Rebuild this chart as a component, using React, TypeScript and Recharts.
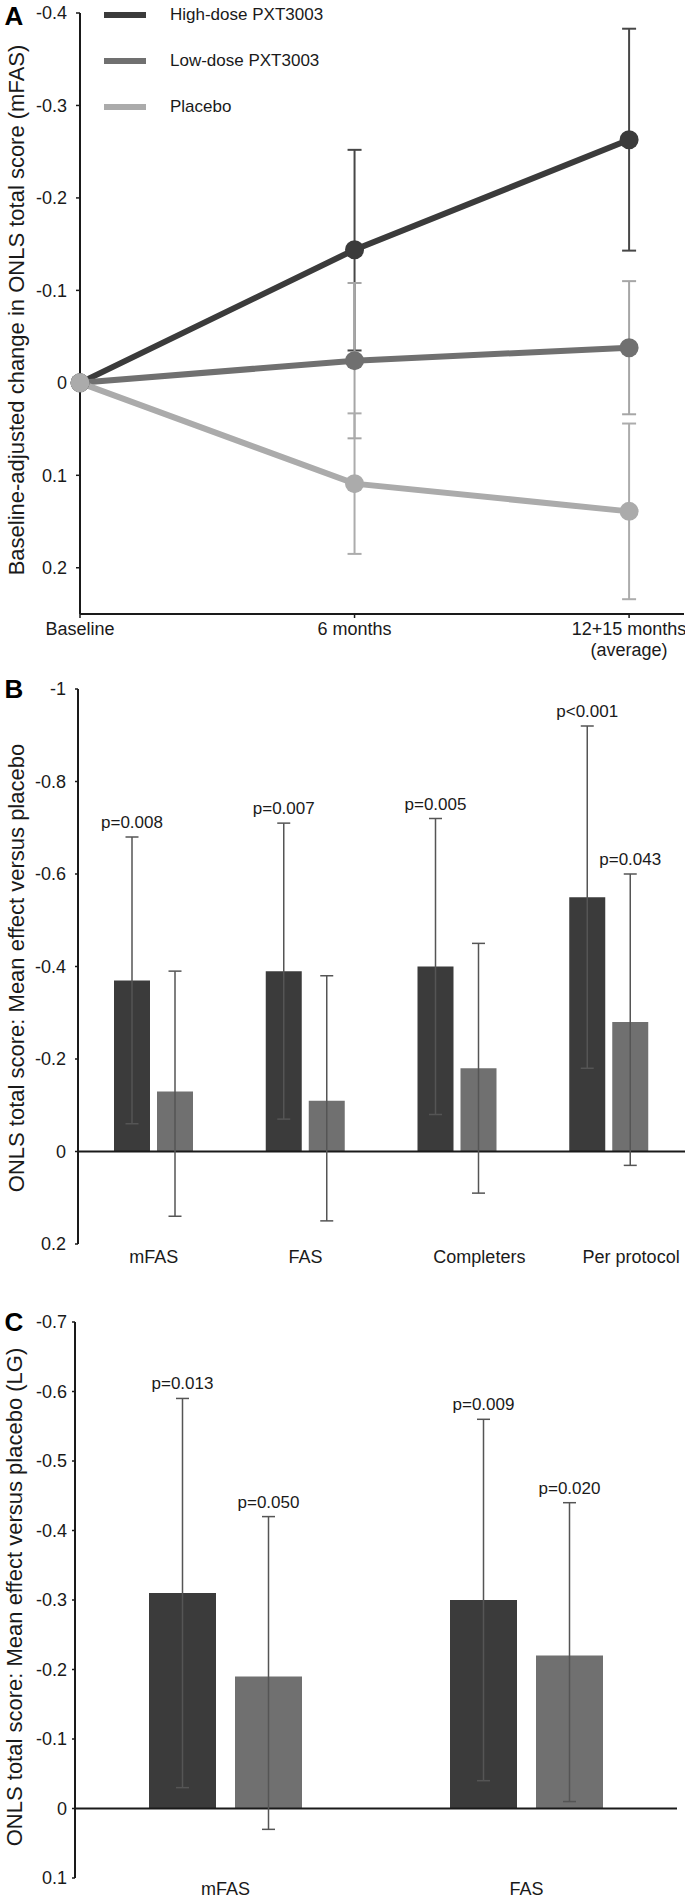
import React from "react";
import {
  Bar,
  BarChart,
  ErrorBar,
  LabelList,
  Legend,
  Line,
  LineChart,
  ReferenceLine,
  XAxis,
  YAxis,
} from "recharts";

const FONT = "'Liberation Sans', Arial, Helvetica, sans-serif";
const INK = "#1a1a1a";
const DARK = "#3b3b3b";
const MID = "#707070";
const LIGHT = "#ababab";
const WHISKER = "#555555";

// A: baseline-adjusted change in ONLS total score (mFAS)
const visits = ["Baseline", "6 months", "12+15 months|(average)"];
const visitPos = [0, 1, 2];
const highDose = [0, -0.144, -0.263];
const highDoseCI = [[0, 0], [-0.252, -0.035], [-0.383, -0.143]];
const lowDose = [0, -0.024, -0.038];
const lowDoseCI = [[0, 0], [-0.108, 0.06], [-0.11, 0.034]];
const placebo = [0, 0.109, 0.139];
const placeboCI = [[0, 0], [0.033, 0.185], [0.044, 0.234]];
const ticksA = [-0.4, -0.3, -0.2, -0.1, 0, 0.1, 0.2];

// B: mean effect versus placebo by analysis set
const setsB = ["mFAS", "FAS", "Completers", "Per protocol"];
const highB = [-0.37, -0.39, -0.4, -0.55];
const highCIB = [[-0.68, -0.06], [-0.71, -0.07], [-0.72, -0.08], [-0.92, -0.18]];
const lowB = [-0.13, -0.11, -0.18, -0.28];
const lowCIB = [[-0.39, 0.14], [-0.38, 0.15], [-0.45, 0.09], [-0.6, 0.03]];
const highPB = ["p=0.008", "p=0.007", "p=0.005", "p<0.001"];
const lowPB = ["", "", "", "p=0.043"];
const ticksB = [-1, -0.8, -0.6, -0.4, -0.2, 0, 0.2];

// C: mean effect versus placebo (LG)
const setsC = ["mFAS", "FAS"];
const highC = [-0.31, -0.3];
const highCIC = [[-0.59, -0.03], [-0.56, -0.04]];
const lowC = [-0.19, -0.22];
const lowCIC = [[-0.42, 0.03], [-0.44, -0.01]];
const highPC = ["p=0.013", "p=0.009"];
const lowPC = ["p=0.050", "p=0.020"];
const ticksC = [-0.7, -0.6, -0.5, -0.4, -0.3, -0.2, -0.1, 0, 0.1];

// the original sets the last two B labels a little to the right of their bars
const labelShiftB = [0, 0, 22, 22];

const err = (v: number, ci: number[]) => [v - ci[0], ci[1] - v];

const dataA = visitPos.map((t, i) => ({
  t,
  high: highDose[i],
  highErr: err(highDose[i], highDoseCI[i]),
  low: lowDose[i],
  lowErr: err(lowDose[i], lowDoseCI[i]),
  placebo: placebo[i],
  placeboErr: err(placebo[i], placeboCI[i]),
}));

const dataB = setsB.map((set, i) => ({
  set,
  high: highB[i],
  highErr: err(highB[i], highCIB[i]),
  highP: highPB[i],
  low: lowB[i],
  lowErr: err(lowB[i], lowCIB[i]),
  lowP: lowPB[i],
}));

const dataC = setsC.map((set, i) => ({
  set,
  high: highC[i],
  highErr: err(highC[i], highCIC[i]),
  highP: highPC[i],
  low: lowC[i],
  lowErr: err(lowC[i], lowCIC[i]),
  lowP: lowPC[i],
}));

const tickStyle = { fontSize: 18, fill: INK, fontFamily: FONT };

// axis title + panel letter, drawn through the y axis label slot
function titleLabel(title: string, x: number, y: number, letter: string, ly: number) {
  return () => (
    <g>
      <text
        x={x}
        y={y}
        transform={`rotate(-90, ${x}, ${y})`}
        textAnchor="middle"
        fontSize={22}
        fontFamily={FONT}
        fill={INK}
      >
        {title}
      </text>
      <text x={14} y={ly} textAnchor="middle" dominantBaseline="central" fontSize={26} fontWeight="bold" fontFamily={FONT} fill="#000">
        {letter}
      </text>
    </g>
  );
}

function visitTick(props: any) {
  const { x, y, payload } = props;
  const lines = visits[payload.value].split("|");
  return (
    <text x={x} y={y} textAnchor="middle" fontSize={18} fontFamily={FONT} fill={INK}>
      {lines.map((l, i) => (
        <tspan key={i} x={x} dy={i === 0 ? 15 : 21}>
          {l}
        </tspan>
      ))}
    </text>
  );
}

const setTick = (dy: number, shift: number[] = []) => (props: any) => {
  const { x, y, payload, index } = props;
  return (
    <text x={x + (shift[index] || 0)} y={y} dy={dy} textAnchor="middle" fontSize={18} fontFamily={FONT} fill={INK}>
      {payload.value}
    </text>
  );
};

// p-value placed above the upper whisker, scaled from the bar's own geometry
const pLabel = (values: number[], cis: number[][]) => (props: any) => {
  const { value, index } = props;
  if (!value) return null;
  const vb = props.viewBox || props;
  const top = Math.min(vb.y, vb.y + vb.height);
  const pxPerUnit = Math.abs(vb.height) / Math.abs(values[index]);
  const capY = top - (values[index] - cis[index][0]) * pxPerUnit;
  return (
    <text x={vb.x + vb.width / 2} y={capY - 9} textAnchor="middle" fontSize={17} fontFamily={FONT} fill={INK}>
      {value}
    </text>
  );
};

function LegendA(props: any) {
  const { payload = [] } = props;
  return (
    <div style={{ position: "relative", width: 685, height: 125, fontFamily: FONT, fontSize: 17, color: INK }}>
      {payload.map((p: any, i: number) => (
        <div
          key={p.value}
          style={{ position: "absolute", left: 104, top: 15 + i * 46 - 12, height: 24, display: "flex", alignItems: "center" }}
        >
          <span style={{ display: "inline-block", width: 42, height: 6, background: p.color }} />
          <span style={{ marginLeft: 24, whiteSpace: "nowrap" }}>{p.value}</span>
        </div>
      ))}
    </div>
  );
}

export default function App() {
  return (
    <div style={{ position: "absolute", left: 0, top: 0, width: 685, height: 1899, background: "#fff" }}>
      <div style={{ position: "absolute", left: 0, top: 0 }}>
        <LineChart width={685} height={664} data={dataA} margin={{ top: 13, right: 1, bottom: 0, left: 0 }}>
          <XAxis
            dataKey="t"
            type="number"
            domain={[0, 2.2]}
            ticks={visitPos}
            interval={0}
            height={50}
            tickSize={4}
            tickMargin={2}
            tick={visitTick}
            axisLine={{ stroke: INK, strokeWidth: 2 }}
            tickLine={{ stroke: INK, strokeWidth: 1.5 }}
          />
          <YAxis
            reversed
            domain={[-0.4, 0.25]}
            ticks={ticksA}
            interval={0}
            width={80}
            tickSize={4}
            tickMargin={9}
            tick={tickStyle}
            tickFormatter={(v) => String(v)}
            axisLine={{ stroke: INK, strokeWidth: 2 }}
            tickLine={{ stroke: INK, strokeWidth: 1.5 }}
            label={titleLabel("Baseline-adjusted change in ONLS total score (mFAS)", 24, 310, "A", 16)}
          />
          <Legend
            layout="horizontal"
            verticalAlign="middle"
            align="center"
            wrapperStyle={{ top: 0, left: 0, width: 685, height: 125 }}
            content={LegendA}
          />
          <Line
            dataKey="high"
            name="High-dose PXT3003"
            stroke={DARK}
            strokeWidth={6}
            dot={{ r: 9.5, fill: DARK, stroke: DARK, strokeWidth: 0 }}
            isAnimationActive={false}
          >
            <ErrorBar dataKey="highErr" direction="y" width={7} stroke="#474747" strokeWidth={2} />
          </Line>
          <Line
            dataKey="low"
            name="Low-dose PXT3003"
            stroke={MID}
            strokeWidth={6}
            dot={{ r: 9.5, fill: MID, stroke: MID, strokeWidth: 0 }}
            isAnimationActive={false}
          >
            <ErrorBar dataKey="lowErr" direction="y" width={7} stroke="#a6a6a6" strokeWidth={2} />
          </Line>
          <Line
            dataKey="placebo"
            name="Placebo"
            stroke={LIGHT}
            strokeWidth={6}
            dot={{ r: 9.5, fill: LIGHT, stroke: LIGHT, strokeWidth: 0 }}
            isAnimationActive={false}
          >
            <ErrorBar dataKey="placeboErr" direction="y" width={7} stroke="#acacac" strokeWidth={2} />
          </Line>
        </LineChart>
      </div>

      <div style={{ position: "absolute", left: 0, top: 660 }}>
        <BarChart width={685} height={614} data={dataB} margin={{ top: 29, right: 0, bottom: 0, left: 0 }} barSize={36} barGap={7}>
          <XAxis dataKey="set" interval={0} height={30} tickSize={0} tickMargin={0} axisLine={false} tickLine={false} tick={setTick(19, labelShiftB)} />
          <YAxis
            reversed
            domain={[-1, 0.2]}
            ticks={ticksB}
            interval={0}
            width={78}
            tickSize={3}
            tickMargin={9}
            tick={tickStyle}
            tickFormatter={(v) => String(v)}
            axisLine={{ stroke: INK, strokeWidth: 2 }}
            tickLine={{ stroke: INK, strokeWidth: 1.5 }}
            label={titleLabel("ONLS total score: Mean effect versus placebo", 24, 308, "B", 29)}
          />
          <ReferenceLine y={0} stroke={INK} strokeWidth={2} />
          <Bar dataKey="high" fill={DARK} isAnimationActive={false}>
            <ErrorBar dataKey="highErr" direction="y" width={6.5} stroke={WHISKER} strokeWidth={1.5} />
            <LabelList dataKey="highP" content={pLabel(highB, highCIB)} />
          </Bar>
          <Bar dataKey="low" fill={MID} isAnimationActive={false}>
            <ErrorBar dataKey="lowErr" direction="y" width={6.5} stroke={WHISKER} strokeWidth={1.5} />
            <LabelList dataKey="lowP" content={pLabel(lowB, lowCIB)} />
          </Bar>
        </BarChart>
      </div>

      <div style={{ position: "absolute", left: 0, top: 1300 }}>
        <BarChart width={685} height={599} data={dataC} margin={{ top: 22, right: 8, bottom: 0, left: 0 }} barSize={67} barGap={19}>
          <XAxis dataKey="set" interval={0} height={21} tickSize={0} tickMargin={0} axisLine={false} tickLine={false} tick={setTick(17)} />
          <YAxis
            reversed
            domain={[-0.7, 0.1]}
            ticks={ticksC}
            interval={0}
            width={75}
            tickSize={3}
            tickMargin={5}
            tick={tickStyle}
            tickFormatter={(v) => String(v)}
            axisLine={{ stroke: INK, strokeWidth: 2 }}
            tickLine={{ stroke: INK, strokeWidth: 1.5 }}
            label={titleLabel("ONLS total score: Mean effect versus placebo (LG)", 22, 297, "C", 22)}
          />
          <ReferenceLine y={0} stroke={INK} strokeWidth={2} />
          <Bar dataKey="high" fill={DARK} isAnimationActive={false}>
            <ErrorBar dataKey="highErr" direction="y" width={6.5} stroke={WHISKER} strokeWidth={1.5} />
            <LabelList dataKey="highP" content={pLabel(highC, highCIC)} />
          </Bar>
          <Bar dataKey="low" fill={MID} isAnimationActive={false}>
            <ErrorBar dataKey="lowErr" direction="y" width={6.5} stroke={WHISKER} strokeWidth={1.5} />
            <LabelList dataKey="lowP" content={pLabel(lowC, lowCIC)} />
          </Bar>
        </BarChart>
      </div>
    </div>
  );
}
